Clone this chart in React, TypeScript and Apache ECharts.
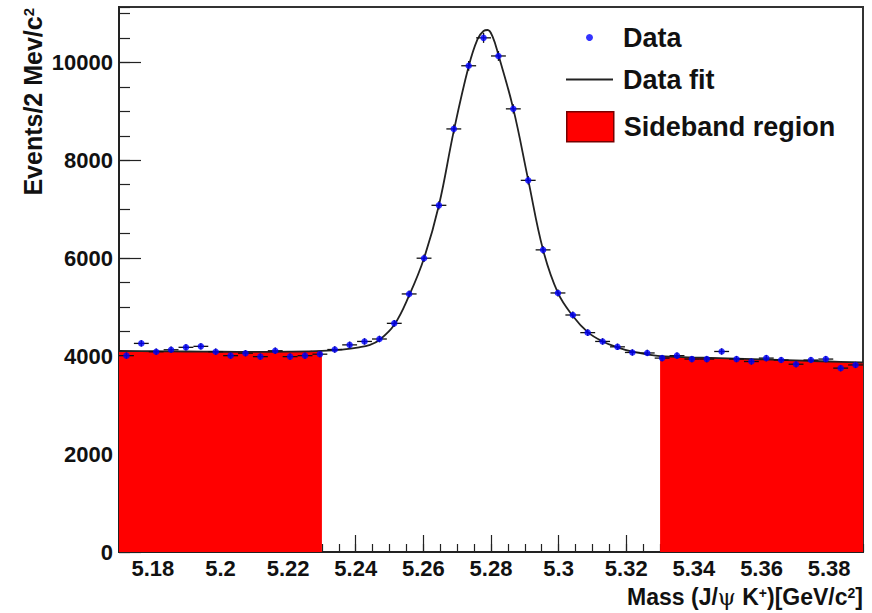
import React, { useEffect, useRef } from "react";
import * as echarts from "echarts";

// Bin centres (GeV/c^2) and event counts
const massBins = [
  5.1722, 5.1766, 5.181, 5.1854, 5.1898, 5.1942, 5.1986, 5.203, 5.2074, 5.2118,
  5.2162, 5.2206, 5.225, 5.2294, 5.2338, 5.2382, 5.2426, 5.247, 5.2514, 5.2558,
  5.2602, 5.2646, 5.269, 5.2734, 5.2778, 5.2822, 5.2866, 5.291, 5.2954, 5.2998,
  5.3042, 5.3086, 5.313, 5.3174, 5.3218, 5.3262, 5.3306, 5.335, 5.3394, 5.3438,
  5.3482, 5.3526, 5.357, 5.3614, 5.3658, 5.3702, 5.3746, 5.379, 5.3834, 5.3878,
];
const dataCounts = [
  4010, 4260, 4090, 4130, 4180, 4200, 4090, 4010, 4060, 3990,
  4110, 3990, 4010, 4040, 4135, 4230, 4300, 4350, 4670, 5270,
  6000, 7080, 8640, 9930, 10500, 10130, 9050, 7590, 6170, 5290,
  4840, 4480, 4300, 4190, 4075, 4065, 3960, 4010, 3940, 3940,
  4095, 3940, 3890, 3960, 3920, 3835, 3920, 3940, 3755, 3820,
];

// Fit curve
const fitMass = [
  5.17, 5.18, 5.19, 5.2, 5.21, 5.22, 5.23, 5.236, 5.241, 5.244,
  5.247, 5.2514, 5.2558, 5.2602, 5.2646, 5.269, 5.2734, 5.276, 5.2778, 5.279,
  5.2805, 5.2822, 5.2866, 5.291, 5.2954, 5.2998, 5.3042, 5.3086, 5.313, 5.3174,
  5.3218, 5.3262, 5.33, 5.34, 5.35, 5.36, 5.37, 5.38, 5.39,
];
const fitValues = [
  4105, 4100, 4095, 4090, 4088, 4092, 4108, 4135, 4180, 4225,
  4330, 4640, 5240, 6000, 7080, 8600, 9920, 10470, 10640, 10660,
  10520, 10150, 9050, 7600, 6170, 5290, 4820, 4490, 4300, 4180,
  4090, 4035, 4000, 3975, 3955, 3935, 3912, 3890, 3870,
];

const xTickLabels = ["5.18", "5.2", "5.22", "5.24", "5.26", "5.28", "5.3", "5.32", "5.34", "5.36", "5.38"];
const yTickLabels = ["0", "2000", "4000", "6000", "8000", "10000"];
const xRange = [5.17, 5.39];
const yRange = [0, 11130];
const sidebandLow = [5.17, 5.23];
const sidebandHigh = [5.33, 5.39];
const binWidth = 0.0044;

const FONT = "'Liberation Sans', Arial, Helvetica, sans-serif";

export default function App() {
  const ref = useRef<HTMLDivElement>(null);

  useEffect(() => {
    if (!ref.current) return;
    const chart = echarts.init(ref.current, null, { renderer: "svg" });

    const fitPts = fitMass.map((m, i) => [m, fitValues[i]]);
    const lowPts = fitPts.filter((p) => p[0] >= sidebandLow[0] - 1e-9 && p[0] <= sidebandLow[1] + 1e-9);
    const highPts = fitPts.filter((p) => p[0] >= sidebandHigh[0] - 1e-9 && p[0] <= sidebandHigh[1] + 1e-9);
    const dataPts = massBins.map((m, i) => [m, dataCounts[i]]);
    const xMajor = xTickLabels.map(Number);
    const yMajor = yTickLabels.map(Number);

    const labelStyle = { fontFamily: FONT, fontWeight: "bold" as const, fontSize: 22, color: "#111" };
    const legendText = (pad: number) => ({
      fontFamily: FONT,
      fontWeight: "bold" as const,
      fontSize: 27,
      color: "#111",
      padding: [0, 0, 0, pad],
    });

    const findLabel = (v: number, list: string[]) => {
      for (const s of list) if (Math.abs(Number(s) - v) < 1e-7) return s;
      return "";
    };

    const option: any = {
      animation: false,
      backgroundColor: "#fff",
      grid: {
        left: 119,
        right: 9,
        top: 7,
        bottom: 61,
        show: true,
        borderColor: "#333",
        borderWidth: 2,
        backgroundColor: "transparent",
      },
      xAxis: [
        {
          type: "value",
          min: xRange[0],
          max: xRange[1],
          interval: 0.005,
          position: "bottom",
          axisLine: { show: true, onZero: false, lineStyle: { color: "#222", width: 2 } },
          axisTick: { show: true, inside: true, length: 8, lineStyle: { color: "#222", width: 1.2 } },
          axisLabel: {
            ...labelStyle,
            margin: 5,
            interval: 0,
            showMinLabel: true,
            showMaxLabel: true,
            formatter: (v: number) => findLabel(v, xTickLabels),
          },
          splitLine: { show: false },
        },
        {
          type: "value",
          min: xRange[0],
          max: xRange[1],
          position: "bottom",
          axisLine: { show: false, onZero: false },
          axisTick: { show: true, inside: true, length: 17, customValues: xMajor, lineStyle: { color: "#222", width: 1.2 } },
          axisLabel: { show: false },
          splitLine: { show: false },
        },
      ],
      yAxis: [
        {
          type: "value",
          min: yRange[0],
          max: yRange[1],
          interval: 500,
          position: "left",
          axisLine: { show: true, onZero: false, lineStyle: { color: "#222", width: 2 } },
          axisTick: { show: true, inside: true, length: 11, lineStyle: { color: "#222", width: 1.2 } },
          axisLabel: {
            ...labelStyle,
            margin: 6,
            showMinLabel: true,
            showMaxLabel: true,
            formatter: (v: number) => findLabel(v, yTickLabels),
          },
          splitLine: { show: false },
        },
        {
          type: "value",
          min: yRange[0],
          max: yRange[1],
          position: "left",
          axisLine: { show: false, onZero: false },
          axisTick: { show: true, inside: true, length: 22, customValues: yMajor, lineStyle: { color: "#222", width: 1.2 } },
          axisLabel: { show: false },
          splitLine: { show: false },
        },
      ],
      legend: [
        {
          data: [{ name: "Data", icon: "circle" }],
          left: 586,
          top: 24,
          padding: 0,
          itemWidth: 7,
          itemHeight: 7,
          textStyle: legendText(25),
          selectedMode: false,
        },
        {
          data: [{ name: "Data fit", icon: "rect" }],
          left: 566,
          top: 66,
          padding: 0,
          itemWidth: 47,
          itemHeight: 2,
          textStyle: legendText(5),
          itemStyle: { color: "#222" },
          selectedMode: false,
        },
        {
          data: [{ name: "Sideband region", icon: "rect" }],
          left: 566,
          top: 111,
          padding: 0,
          itemWidth: 47,
          itemHeight: 30,
          textStyle: legendText(5),
          itemStyle: { color: "#ff0000", borderColor: "#700", borderWidth: 1.5 },
          selectedMode: false,
        },
      ],
      graphic: [
        {
          type: "text",
          x: 33,
          y: 8,
          rotation: Math.PI / 2,
          style: {
            text: "Events/2 Mev/c{sup|2}",
            fontFamily: FONT,
            fontWeight: "bold",
            fontSize: 25,
            fill: "#111",
            align: "right",
            verticalAlign: "middle",
            rich: {
              sup: { fontFamily: FONT, fontWeight: "bold", fontSize: 15, fill: "#111", verticalAlign: "top" },
            },
          },
        },
        {
          type: "text",
          x: 863,
          y: 597,
          style: {
            text: "Mass (J/{psi|ψ} K{sup|+})[GeV/c{sup|2}]",
            fontFamily: FONT,
            fontWeight: "bold",
            fontSize: 23,
            fill: "#111",
            align: "right",
            verticalAlign: "middle",
            rich: {
              sup: { fontFamily: FONT, fontWeight: "bold", fontSize: 14, fill: "#111", verticalAlign: "top" },
              psi: { fontFamily: "'DejaVu Serif', serif", fontWeight: "normal", fontSize: 23, fill: "#111" },
            },
          },
        },
      ],
      series: [
        {
          name: "Sideband region",
          type: "line",
          xAxisIndex: 0,
          yAxisIndex: 0,
          data: lowPts,
          smooth: 0.4,
          symbol: "none",
          lineStyle: { width: 0, opacity: 0 },
          itemStyle: { color: "#ff0000" },
          areaStyle: { color: "#ff0000", opacity: 1 },
          z: 2,
        },
        {
          name: "Sideband region",
          type: "line",
          xAxisIndex: 0,
          yAxisIndex: 0,
          data: highPts,
          smooth: 0.4,
          symbol: "none",
          lineStyle: { width: 0, opacity: 0 },
          itemStyle: { color: "#ff0000" },
          areaStyle: { color: "#ff0000", opacity: 1 },
          z: 2,
        },
        {
          name: "Data fit",
          type: "line",
          xAxisIndex: 0,
          yAxisIndex: 0,
          data: fitPts,
          smooth: 0.4,
          symbol: "none",
          itemStyle: { color: "#222" },
          lineStyle: { color: "#222", width: 1.8 },
          z: 3,
        },
        {
          name: "Error bars",
          type: "custom",
          xAxisIndex: 0,
          yAxisIndex: 0,
          data: dataPts,
          encode: { x: 0, y: 1 },
          z: 4,
          renderItem: (params: any, api: any) => {
            const x = api.value(0);
            const y = api.value(1);
            const err = Math.sqrt(y);
            const l = api.coord([x - binWidth / 2, y]);
            const r = api.coord([x + binWidth / 2, y]);
            const t = api.coord([x, y + err]);
            const b = api.coord([x, y - err]);
            return {
              type: "group",
              children: [
                { type: "line", shape: { x1: l[0], y1: l[1], x2: r[0], y2: r[1] }, style: { stroke: "#111", lineWidth: 1.3 } },
                { type: "line", shape: { x1: t[0], y1: t[1], x2: b[0], y2: b[1] }, style: { stroke: "#111", lineWidth: 1.3 } },
              ],
            };
          },
        },
        {
          name: "Data",
          type: "scatter",
          xAxisIndex: 0,
          yAxisIndex: 0,
          data: dataPts,
          symbol: "circle",
          symbolSize: 6.5,
          itemStyle: { color: "#0000ff" },
          z: 5,
        },
      ],
    };

    chart.setOption(option);
    return () => chart.dispose();
  }, []);

  return (
    <div
      ref={ref}
      style={{ position: "fixed", left: 0, top: 0, width: 872, height: 613, background: "#fff" }}
    />
  );
}
